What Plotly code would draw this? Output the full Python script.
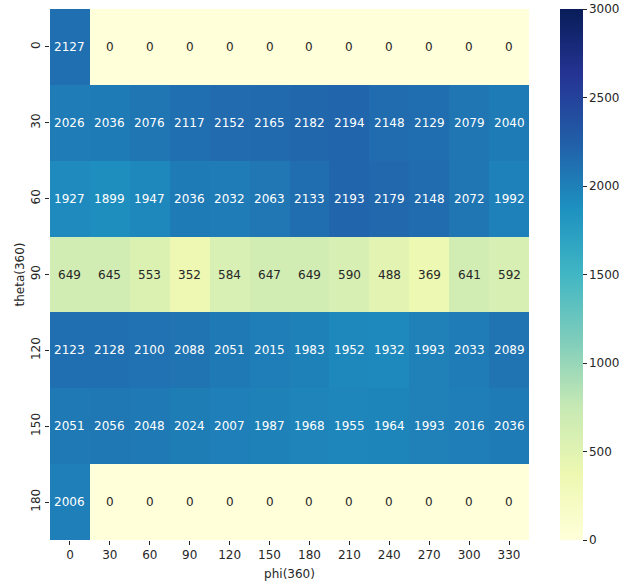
import plotly.graph_objects as go

# Angle bins
phi_labels = ["0", "30", "60", "90", "120", "150", "180", "210", "240", "270", "300", "330"]
theta_labels = ["0", "30", "60", "90", "120", "150", "180"]

# Counts per (theta, phi) bin
theta_0 = [2127, 0, 0, 0, 0, 0, 0, 0, 0, 0, 0, 0]
theta_30 = [2026, 2036, 2076, 2117, 2152, 2165, 2182, 2194, 2148, 2129, 2079, 2040]
theta_60 = [1927, 1899, 1947, 2036, 2032, 2063, 2133, 2193, 2179, 2148, 2072, 1992]
theta_90 = [649, 645, 553, 352, 584, 647, 649, 590, 488, 369, 641, 592]
theta_120 = [2123, 2128, 2100, 2088, 2051, 2015, 1983, 1952, 1932, 1993, 2033, 2089]
theta_150 = [2051, 2056, 2048, 2024, 2007, 1987, 1968, 1955, 1964, 1993, 2016, 2036]
theta_180 = [2006, 0, 0, 0, 0, 0, 0, 0, 0, 0, 0, 0]

counts = [theta_0, theta_30, theta_60, theta_90, theta_120, theta_150, theta_180]

ylgnbu = [
    [0.000, "rgb(255,255,217)"],
    [0.125, "rgb(237,248,177)"],
    [0.250, "rgb(199,233,180)"],
    [0.375, "rgb(127,205,187)"],
    [0.500, "rgb(65,182,196)"],
    [0.625, "rgb(29,145,192)"],
    [0.750, "rgb(34,94,168)"],
    [0.875, "rgb(37,52,148)"],
    [1.000, "rgb(8,29,88)"],
]

ZMIN, ZMAX = 0, 3000
FONT = "DejaVu Sans"
TXT = "#262626"
FS = 12

nx = len(phi_labels)
ny = len(theta_labels)

ML, MR, MT, MB = 50, 107, 9, 45
W, H = 636, 585
plot_w = W - ML - MR
cbar_left_px = 560

fig = go.Figure(
    go.Heatmap(
        z=counts,
        x=list(range(nx)),
        y=list(range(ny)),
        colorscale=ylgnbu,
        zmin=ZMIN,
        zmax=ZMAX,
        colorbar=dict(
            x=(cbar_left_px - ML) / plot_w,
            xanchor="left",
            xpad=0,
            ypad=0,
            y=0.5,
            yanchor="middle",
            len=1.0,
            lenmode="fraction",
            thickness=23,
            outlinewidth=0,
            tickmode="array",
            tickvals=[0, 500, 1000, 1500, 2000, 2500, 3000],
            ticks="outside",
            ticklen=4,
            tickwidth=1,
            tickcolor=TXT,
            tickfont=dict(family=FONT, size=FS, color=TXT),
        ),
        hoverinfo="skip",
    )
)


def text_color(v):
    # light cells get dark text, dark cells get white text
    return "white" if v > 1300 else TXT


annotations = []
for r, row in enumerate(counts):
    for c, v in enumerate(row):
        annotations.append(
            dict(
                x=c,
                y=r,
                xref="x",
                yref="y",
                text=str(v),
                showarrow=False,
                font=dict(family=FONT, size=FS, color=text_color(v)),
            )
        )

fig.update_layout(
    width=W,
    height=H,
    margin=dict(l=ML, r=MR, t=MT, b=MB, autoexpand=False),
    paper_bgcolor="white",
    plot_bgcolor="white",
    font=dict(family=FONT, size=FS, color=TXT),
    annotations=annotations,
    xaxis=dict(
        range=[-0.5, nx - 0.5],
        tickmode="array",
        tickvals=list(range(nx)),
        ticktext=phi_labels,
        ticks="outside",
        ticklen=4,
        tickcolor=TXT,
        showgrid=False,
        zeroline=False,
        showline=False,
        title=dict(text="phi(360)", standoff=8, font=dict(family=FONT, size=FS, color=TXT)),
    ),
    yaxis=dict(
        range=[ny - 0.5, -0.5],
        tickmode="array",
        tickvals=list(range(ny)),
        ticktext=theta_labels,
        tickangle=-90,
        ticks="outside",
        ticklen=4,
        tickcolor=TXT,
        showgrid=False,
        zeroline=False,
        showline=False,
        title=dict(text="theta(360)", standoff=2, font=dict(family=FONT, size=FS, color=TXT)),
    ),
)

fig.write_html("out.html")
